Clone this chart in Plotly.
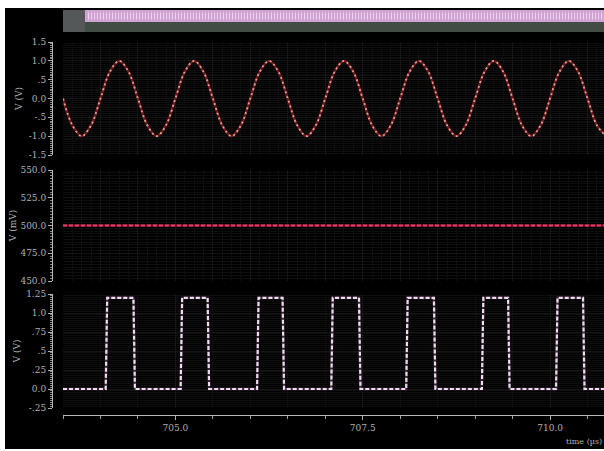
import plotly.graph_objects as go

# ---------------- data ----------------
# sine: points read every 1/8 period, time in us, value in V
sine_t = [703.500, 703.625, 703.750, 703.875, 704.000, 704.125, 704.250, 704.375,
          704.500, 704.625, 704.750, 704.875, 705.000, 705.125, 705.250, 705.375,
          705.500, 705.625, 705.750, 705.875, 706.000, 706.125, 706.250, 706.375,
          706.500, 706.625, 706.750, 706.875, 707.000, 707.125, 707.250, 707.375,
          707.500, 707.625, 707.750, 707.875, 708.000, 708.125, 708.250, 708.375,
          708.500, 708.625, 708.750, 708.875, 709.000, 709.125, 709.250, 709.375,
          709.500, 709.625, 709.750, 709.875, 710.000, 710.125, 710.250, 710.375,
          710.500, 710.625, 710.750]
sine_v = [0.0, -0.71, -1.0, -0.71, 0.0, 0.71, 1.0, 0.71,
          0.0, -0.71, -1.0, -0.71, 0.0, 0.71, 1.0, 0.71,
          0.0, -0.71, -1.0, -0.71, 0.0, 0.71, 1.0, 0.71,
          0.0, -0.71, -1.0, -0.71, 0.0, 0.71, 1.0, 0.71,
          0.0, -0.71, -1.0, -0.71, 0.0, 0.71, 1.0, 0.71,
          0.0, -0.71, -1.0, -0.71, 0.0, 0.71, 1.0, 0.71,
          0.0, -0.71, -1.0, -0.71, 0.0, 0.71, 1.0, 0.71,
          0.0, -0.71, -1.0]

# constant level (mV)
dc_t = [703.5, 710.75]
dc_v = [500.0, 500.0]

# pulse train (V)
pulse_t = [703.50, 704.07, 704.09, 704.44, 704.46, 705.07, 705.09, 705.43, 705.45,
           706.09, 706.11, 706.43, 706.45, 707.08, 707.10, 707.45, 707.47,
           708.08, 708.10, 708.45, 708.47, 709.09, 709.11, 709.44, 709.46,
           710.08, 710.10, 710.44, 710.46, 710.75]
pulse_v = [0.0, 0.0, 1.2, 1.2, 0.0, 0.0, 1.2, 1.2, 0.0,
           0.0, 1.2, 1.2, 0.0, 0.0, 1.2, 1.2, 0.0,
           0.0, 1.2, 1.2, 0.0, 0.0, 1.2, 1.2, 0.0,
           0.0, 1.2, 1.2, 0.0, 0.0]

x_range = [703.5, 710.72]
x_tickvals = [705.0, 707.5, 710.0]
x_ticktext = ["705.0", "707.5", "710.0"]

y1_vals = [1.5, 1.0, 0.5, 0.0, -0.5, -1.0, -1.5]
y1_text = ["1.5", "1.0", ".5", "0.0", "-.5", "-1.0", "-1.5"]
y2_vals = [550, 525, 500, 475, 450]
y2_text = ["550.0", "525.0", "500.0", "475.0", "450.0"]
y3_vals = [1.25, 1.0, 0.75, 0.5, 0.25, 0.0, -0.25]
y3_text = ["1.25", "1.0", ".75", ".5", ".25", "0.0", "-.25"]

# ---------------- figure ----------------
W, H = 604, 451
ML, MR, MT, MB = 52, 0, 10, 36
PH = H - MT - MB
PW = W - ML - MR


def py(p):
    return (H - MB - p) / PH


def px(p):
    return (p - ML) / PW


fig = go.Figure()

# sine
fig.add_trace(go.Scatter(x=sine_t, y=sine_v, xaxis="x2", yaxis="y2", mode="lines",
                         line=dict(color="#6e1a20", width=2.4, shape="spline", smoothing=1.0),
                         hoverinfo="skip", showlegend=False))
fig.add_trace(go.Scatter(x=sine_t, y=sine_v, xaxis="x2", yaxis="y2", mode="lines",
                         line=dict(color="#e4a08c", width=1.8, shape="spline", smoothing=1.0,
                                   dash="2px,3px"),
                         showlegend=False))
# dc
fig.add_trace(go.Scatter(x=dc_t, y=dc_v, xaxis="x3", yaxis="y3", mode="lines",
                         line=dict(color="#7a1028", width=2.6),
                         hoverinfo="skip", showlegend=False))
fig.add_trace(go.Scatter(x=dc_t, y=dc_v, xaxis="x3", yaxis="y3", mode="lines",
                         line=dict(color="#e0406a", width=2.2, dash="4px,2px"),
                         showlegend=False))
# pulses
fig.add_trace(go.Scatter(x=pulse_t, y=pulse_v, xaxis="x", yaxis="y", mode="lines",
                         line=dict(color="#3e2a3e", width=2.6),
                         hoverinfo="skip", showlegend=False))
fig.add_trace(go.Scatter(x=pulse_t, y=pulse_v, xaxis="x", yaxis="y", mode="lines",
                         line=dict(color="#eedcee", width=2.2, dash="4px,2px"),
                         showlegend=False))

x0frac = px(63)
tickfont = dict(family="DejaVu Serif", size=9, color="#b0b0b0")
gridc = "#161616"
mgridc = "#0e0e0e"

common_x = dict(range=x_range, domain=[x0frac, 1], showgrid=True, gridcolor=gridc,
                dtick=0.5, tick0=705, gridwidth=1, zeroline=False,
                minor=dict(showgrid=True, gridcolor=mgridc, dtick=0.125))


def yax(dom, rng, vals, text, mdt, title, standoff):
    return dict(domain=dom, range=rng, anchor="free", position=0,
                tickvals=vals, ticktext=text, ticks="outside", ticklen=4,
                tickcolor="#b0b0b0", showline=True, linecolor="#b8b8b8",
                showgrid=True, gridcolor=gridc, zeroline=False, tickfont=tickfont,
                minor=dict(ticks="outside", ticklen=2, dtick=mdt, tickcolor="#8a8a8a",
                           showgrid=True, gridcolor=mgridc),
                title=dict(text=title, font=dict(family="DejaVu Serif", size=9, color="#b0b0b0"),
                           standoff=standoff))


fig.update_layout(
    width=W, height=H,
    margin=dict(l=ML, r=MR, t=MT, b=MB),
    paper_bgcolor="black", plot_bgcolor="black",
    xaxis=dict(range=x_range, domain=[x0frac, 1], showgrid=True, gridcolor=gridc,
               zeroline=False, anchor="free", position=0,
               tickvals=x_tickvals, ticktext=x_ticktext,
               ticks="outside", ticklen=4, tickcolor="#b0b0b0",
               showline=True, linecolor="#b8b8b8", linewidth=1,
               tickfont=tickfont,
               minor=dict(ticks="outside", ticklen=3, dtick=0.5, tick0=705,
                          tickcolor="#a0a0a0", showgrid=True, gridcolor=mgridc)),
    xaxis2=dict(**common_x, anchor="y2", matches="x", showticklabels=False, ticks=""),
    xaxis3=dict(**common_x, anchor="y3", matches="x", showticklabels=False, ticks=""),
    yaxis=yax([py(408), py(294)], [-0.25, 1.25], y3_vals, y3_text, 0.025, "V (V)", 3),
    yaxis2=yax([py(155), py(42)], [-1.5, 1.5], y1_vals, y1_text, 0.05, "V (V)", 3),
    yaxis3=yax([py(281), py(170)], [450, 550], y2_vals, y2_text, 2.5, "V (mV)", 1),
)

# x-axis unit label
fig.add_annotation(text="time (\u00b5s)", xref="paper", yref="paper", x=1, y=py(441),
                   xanchor="right", yanchor="middle", showarrow=False,
                   font=dict(family="DejaVu Serif", size=8, color="#b0b0b0"))

# top bus bar
fig.add_shape(type="rect", xref="paper", yref="paper", x0=x0frac, x1=1, y0=py(32), y1=py(22),
              fillcolor="#424c44", line=dict(width=0), layer="above")
fig.add_shape(type="rect", xref="paper", yref="paper", x0=x0frac, x1=1, y0=py(22), y1=py(10),
              fillcolor="#d0a4d2", line=dict(width=0), layer="above")
fig.add_shape(type="rect", xref="paper", yref="paper", x0=x0frac, x1=px(85), y0=py(32), y1=py(10),
              fillcolor="#555858", line=dict(width=0), layer="above")
fig.add_shape(type="line", xref="paper", yref="paper", x0=px(88), x1=1,
              y0=py(16), y1=py(16), line=dict(color="#f0d0f0", width=7, dash="1px,2px"),
              layer="above")

# white border strips (top / left / bottom)
fig.add_shape(type="rect", xref="paper", yref="paper", x0=px(-2), x1=px(W + 2),
              y0=py(8), y1=py(-2), fillcolor="white", line=dict(width=0), layer="above")
fig.add_shape(type="rect", xref="paper", yref="paper", x0=px(-2), x1=px(5),
              y0=py(H + 2), y1=py(-2), fillcolor="white", line=dict(width=0), layer="above")
fig.add_shape(type="rect", xref="paper", yref="paper", x0=px(-2), x1=px(W + 2),
              y0=py(H + 2), y1=py(449), fillcolor="white", line=dict(width=0), layer="above")

fig.write_html("out.html", config={"displayModeBar": False},
               post_script="document.body.style.margin='0';document.body.style.padding='0';")
